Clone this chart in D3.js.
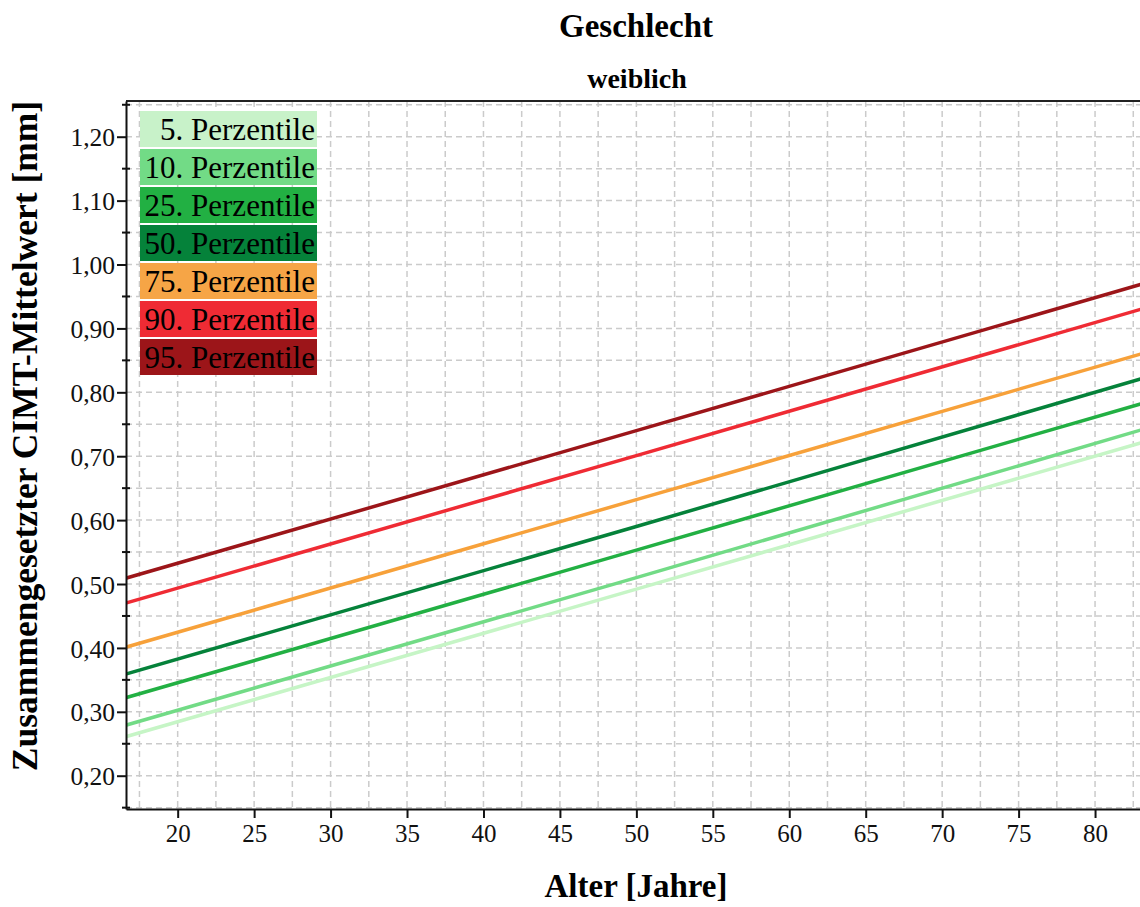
<!DOCTYPE html>
<html>
<head>
<meta charset="utf-8">
<script src="https://cdn.jsdelivr.net/npm/d3@7"></script>
<style>
  html, body { margin: 0; padding: 0; background: #fff; }
  svg { display: block; }
  text { font-family: "Liberation Serif", "Times New Roman", serif; }
</style>
</head>
<body>
<svg id="chart" width="1140" height="907"></svg>
<script>
// ---- data ----
const ages = [16.6, 50, 83];
const seriesNames = ["5. Perzentile", "10. Perzentile", "25. Perzentile", "50. Perzentile", "75. Perzentile", "90. Perzentile", "95. Perzentile"];
const p5  = [0.261, 0.492, 0.721];
const p10 = [0.279, 0.510, 0.741];
const p25 = [0.322, 0.553, 0.782];
const p50 = [0.359, 0.590, 0.821];
const p75 = [0.401, 0.632, 0.860];
const p90 = [0.470, 0.701, 0.930];
const p95 = [0.509, 0.740, 0.969];
const seriesValues = [p5, p10, p25, p50, p75, p90, p95];
const seriesColors = ["#c6f5c6", "#72db86", "#22b043", "#05823a", "#f7a13a", "#ef2b34", "#9c1519"];
const legendColors = ["#c8f2c9", "#72db86", "#22b043", "#05823a", "#f6a546", "#ef2b34", "#9c1519"];
const xTicks = [20, 25, 30, 35, 40, 45, 50, 55, 60, 65, 70, 75, 80];
const yTicks = [0.2, 0.3, 0.4, 0.5, 0.6, 0.7, 0.8, 0.9, 1.0, 1.1, 1.2];
const yMinorTicks = [0.15, 0.25, 0.35, 0.45, 0.55, 0.65, 0.75, 0.85, 0.95, 1.05, 1.15, 1.25];
const xGrid = [17.5, 20, 22.5, 25, 27.5, 30, 32.5, 35, 37.5, 40, 42.5, 45, 47.5, 50, 52.5, 55, 57.5, 60, 62.5, 65, 67.5, 70, 72.5, 75, 77.5, 80, 82.5];
const title = "Geschlecht";
const subtitle = "weiblich";
const xLabel = "Alter [Jahre]";
const yLabel = "Zusammengesetzter CIMT-Mittelwert [mm]";

// ---- layout ----
const svg = d3.select("#chart");
const L = 126, R = 1140, T = 101, B = 809;
const x = d3.scaleLinear().domain([16.62, 82.94]).range([L, R]);
const y = d3.scaleLinear().domain([0.1479, 1.2559]).range([B, T]);

svg.append("defs").append("clipPath").attr("id", "plotclip")
  .append("rect").attr("x", L).attr("y", T).attr("width", R - L).attr("height", B - T);

// grid
const grid = svg.append("g").attr("stroke", "#cbcbcb").attr("stroke-width", 1.5)
  .attr("stroke-dasharray", "6,4").attr("fill", "none");
grid.selectAll("line.v").data(xGrid).enter().append("line")
  .attr("x1", d => x(d)).attr("x2", d => x(d)).attr("y1", T).attr("y2", B);
grid.selectAll("line.h").data(yMinorTicks.concat(yTicks)).enter().append("line")
  .attr("x1", L).attr("x2", R).attr("y1", d => y(d)).attr("y2", d => y(d));

// lines
const line = d3.line().x(d => x(d[0])).y(d => y(d[1]));
const lg = svg.append("g").attr("clip-path", "url(#plotclip)");
seriesValues.forEach((vals, i) => {
  lg.append("path")
    .datum(ages.map((a, j) => [a, vals[j]]))
    .attr("d", line)
    .attr("fill", "none")
    .attr("stroke", seriesColors[i])
    .attr("stroke-width", 3.5);
});

// top border
svg.append("line").attr("x1", L).attr("x2", R).attr("y1", T).attr("y2", T)
  .attr("stroke", "#222").attr("stroke-width", 2);

// x axis
const xAxis = svg.append("g").attr("transform", `translate(0,${B})`)
  .call(d3.axisBottom(x).tickValues(xTicks).tickSize(9).tickSizeOuter(0).tickPadding(6).tickFormat(d3.format("d")));
xAxis.select(".domain").attr("stroke", "#111").attr("stroke-width", 2);
xAxis.selectAll(".tick line").attr("stroke", "#111").attr("stroke-width", 2);
xAxis.selectAll(".tick text").attr("font-size", 25).attr("fill", "#111");

// y axis
const fmt = d => d3.format(".2f")(d).replace(".", ",");
const yAxis = svg.append("g").attr("transform", `translate(${L},0)`)
  .call(d3.axisLeft(y).tickValues(yTicks).tickSize(9).tickSizeOuter(0).tickPadding(2).tickFormat(fmt));
yAxis.select(".domain").attr("stroke", "#111").attr("stroke-width", 2);
yAxis.selectAll(".tick line").attr("stroke", "#111").attr("stroke-width", 2);
yAxis.selectAll(".tick text").attr("font-size", 25.5).attr("fill", "#111").attr("dy", "0.36em");

// minor y ticks (crossing the axis)
svg.append("g").selectAll("line").data(yMinorTicks).enter().append("line")
  .attr("x1", L - 4).attr("x2", L + 4).attr("y1", d => y(d)).attr("y2", d => y(d))
  .attr("stroke", "#111").attr("stroke-width", 2);

// legend
const leg = svg.append("g");
seriesNames.forEach((name, i) => {
  const top = 111 + i * 38;
  leg.append("rect").attr("x", 140).attr("y", top).attr("width", 177).attr("height", 36)
    .attr("fill", legendColors[i]);
  leg.append("text").attr("x", 315).attr("y", top + 29).attr("text-anchor", "end")
    .attr("font-size", 31).attr("fill", "#000").text(name);
});

// titles
svg.append("text").attr("x", 636).attr("y", 37).attr("text-anchor", "middle")
  .attr("font-size", 33).attr("font-weight", "bold").text(title);
svg.append("text").attr("x", 637).attr("y", 88).attr("text-anchor", "middle")
  .attr("font-size", 28).attr("font-weight", "bold").text(subtitle);
svg.append("text").attr("x", 636).attr("y", 897).attr("text-anchor", "middle")
  .attr("font-size", 33).attr("font-weight", "bold").text(xLabel);
svg.append("text").attr("transform", "translate(37,436) rotate(-90)").attr("text-anchor", "middle")
  .attr("font-size", 35.5).attr("font-weight", "bold").text(yLabel);
</script>
</body>
</html>
